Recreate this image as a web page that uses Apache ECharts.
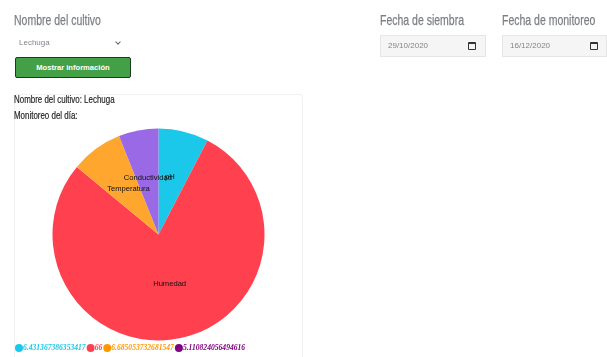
<!DOCTYPE html>
<html lang="es">
<head>
<meta charset="utf-8">
<title>Monitoreo del cultivo</title>
<script src="https://cdn.jsdelivr.net/npm/echarts@6/dist/echarts.min.js"></script>
<style>
  html, body { margin: 0; padding: 0; width: 607px; height: 357px; overflow: hidden; background: #fff; }
  .abs { position: absolute; white-space: nowrap; }
  .heading { font-family: "Liberation Sans", Arial, sans-serif; font-size: 15px; color: #7b7f85; -webkit-text-stroke: .25px #7b7f85; transform: scaleX(.7); transform-origin: left center; }
  .small { font-family: "Liberation Sans", Arial, sans-serif; font-size: 8px; color: #80848a; }
  .date { background: #f5f5f5; border: 1px solid #e6e6e6; box-sizing: border-box; height: 22px; }
  .btn { left: 15px; top: 57px; width: 116px; height: 21px; box-sizing: border-box; background: #43a047; border: 1px solid #1c3a1e; border-radius: 2px;
         color: #fff; font: bold 7.6px "Liberation Sans", Arial, sans-serif; text-align: center; line-height: 19px; }
  .card { left: 14px; top: 94px; width: 289px; height: 270px; box-sizing: border-box; border: 1px solid #f1f1f1; border-radius: 3px; }
  .note { font-family: "Liberation Sans", Arial, sans-serif; font-size: 11.5px; color: #222; -webkit-text-stroke: .2px #222; transform: scaleX(.69); transform-origin: left center; }
  .cal { width: 8px; height: 8px; box-sizing: border-box; border: 1px solid #333; border-top-width: 2.5px; border-radius: 1px; }
  .chev { width: 3px; height: 3px; border-right: 1px solid #666; border-bottom: 1px solid #666; transform: rotate(45deg); }
  #chart { position: absolute; left: 0; top: 0; width: 607px; height: 357px; }
</style>
</head>
<body>
<div class="abs card"></div>
<div id="chart"></div>

<div class="abs heading" style="left:14px;top:11px">Nombre del cultivo</div>
<div class="abs small" style="left:19px;top:38px;">Lechuga</div>
<div class="abs chev" style="left:116px;top:40px"></div>
<div class="abs btn">Mostrar información</div>

<div class="abs heading" style="left:380px;top:11px">Fecha de siembra</div>
<div class="abs date" style="left:380px;top:35px;width:106px"></div>
<div class="abs small" style="left:388px;top:41px">29/10/2020</div>
<div class="abs cal" style="left:468px;top:42px"></div>

<div class="abs heading" style="left:502px;top:11px">Fecha de monitoreo</div>
<div class="abs date" style="left:502px;top:35px;width:105px"></div>
<div class="abs small" style="left:510px;top:41px">16/12/2020</div>
<div class="abs cal" style="left:590px;top:42px"></div>

<div class="abs note" style="left:14px;top:93px">Nombre del cultivo: Lechuga</div>
<div class="abs note" style="left:14px;top:109px">Monitoreo del día:</div>

<script>
// Lecturas del monitoreo, en el orden en que se dibujan las porciones
const parametros = ['pH', 'Humedad', 'Temperatura', 'Conductividad'];
const lecturas = [6.431367386353417, 66, 6.685053732681547, 5.110824056494616];
const coloresPorcion = ['#1cc8ea', '#ff404e', '#ffa62f', '#9a6ae6'];
const coloresLeyenda = ['#1cc8ea', '#ff404e', '#ff9800', '#800080'];
// Ajuste fino de cada etiqueta respecto al centro de su porción
const ajusteEtiquetas = [[-2, -3], [0, -5], [3, 0], [0, -2]];

const grafica = echarts.init(document.getElementById('chart'), null, { renderer: 'canvas' });

const porciones = parametros.map((nombre, i) => ({
  name: nombre,
  value: lecturas[i],
  itemStyle: { color: coloresPorcion[i] },
  label: { offset: ajusteEtiquetas[i] }
}));

grafica.setOption({
  animation: false,
  legend: {
    left: 15,
    top: 344,
    padding: 0,
    itemGap: 1,
    itemWidth: 8,
    itemHeight: 8,
    icon: 'circle',
    selectedMode: false,
    formatter: nombre => String(lecturas[parametros.indexOf(nombre)]),
    data: parametros.map((nombre, i) => ({
      name: nombre,
      itemStyle: { color: coloresLeyenda[i] },
      textStyle: {
        color: coloresLeyenda[i],
        fontFamily: '"Liberation Serif", serif',
        fontStyle: 'italic',
        fontWeight: 'bold',
        fontSize: 7.6,
        padding: [0, 0, 0, -5]
      }
    }))
  },
  series: [{
    type: 'pie',
    center: [158.5, 234.5],
    radius: [0, 106],
    startAngle: 90,
    clockwise: true,
    silent: true,
    avoidLabelOverlap: false,
    labelLayout: { hideOverlap: false },
    label: {
      position: 'inner',
      color: '#111',
      fontFamily: '"Liberation Sans", Arial, sans-serif',
      fontSize: 7.6
    },
    labelLine: { show: false },
    data: porciones
  }]
});
</script>
</body>
</html>
